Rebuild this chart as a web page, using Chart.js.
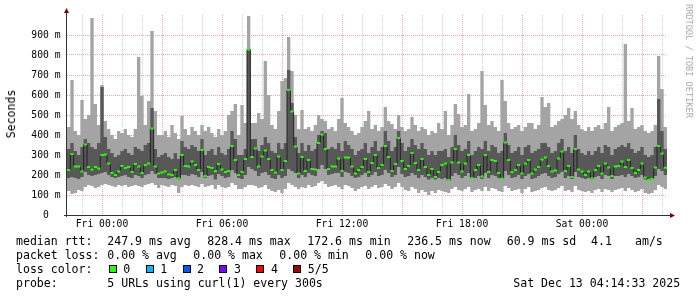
<!DOCTYPE html>
<html>
<head>
<meta charset="utf-8">
<script src="https://cdn.jsdelivr.net/npm/chart.js@4.4.1/dist/chart.umd.min.js"></script>
<style>
  html, body { margin: 0; padding: 0; background: #fff; }
  #wrap { position: relative; width: 697px; height: 297px; overflow: hidden; background: #fff; }
  #wrap canvas { position: absolute; left: 0; top: 0; }
  .t { position: absolute; font-family: 'DejaVu Sans Mono', monospace; font-size: 11.55px; line-height: 14px; white-space: pre; color: #000; }
  .box { position: absolute; top: 265px; width: 8px; height: 8px; box-sizing: border-box; border: 1px solid #000; }
  .ylab { left: 11px; top: 113.5px; transform: translate(-50%, -50%) rotate(-90deg); }
  .credit { left: 689px; top: 61px; font-size: 8.6px; line-height: 10px; color: #a8a8a8; transform: translate(-50%, -50%) rotate(90deg); }
</style>
</head>
<body>
<div id="wrap">
  <canvas id="chart" width="697" height="297"></canvas>
  <div class="t ylab">Seconds</div>
  <div class="t credit">RRDTOOL / TOBI OETIKER</div>

  <div class="t" style="left:16px;top:234.3px">median rtt:</div>
  <div class="t" style="left:107.3px;top:234.3px">247.9 ms avg</div>
  <div class="t" style="left:207.3px;top:234.3px">828.4 ms max</div>
  <div class="t" style="left:307.3px;top:234.3px">172.6 ms min</div>
  <div class="t" style="left:407.3px;top:234.3px">236.5 ms now</div>
  <div class="t" style="left:506.7px;top:234.3px">60.9 ms sd</div>
  <div class="t" style="left:591px;top:234.3px">4.1</div>
  <div class="t" style="left:635px;top:234.3px">am/s</div>

  <div class="t" style="left:16px;top:248.3px">packet loss:</div>
  <div class="t" style="left:107.3px;top:248.3px">0.00 % avg</div>
  <div class="t" style="left:193.3px;top:248.3px">0.00 % max</div>
  <div class="t" style="left:279.3px;top:248.3px">0.00 % min</div>
  <div class="t" style="left:365.3px;top:248.3px">0.00 % now</div>

  <div class="t" style="left:16px;top:262.3px">loss color:</div>
  <div id="lossLegend"></div>

  <div class="t" style="left:16px;top:276.3px">probe:</div>
  <div class="t" style="left:107.3px;top:276.3px">5 URLs using curl(1) every 300s</div>
  <div class="t" style="left:513.3px;top:276.3px">Sat Dec 13 04:14:33 2025</div>
</div>
<script>
// 10 minute columns, first one starts Thu 22:15, last ends Sat 04:15
const STEP_MIN = 10;
const SPAN_MIN = 1800;

const rttMin = [
  120,105,110,125,120,140,150,145,135,140,150,155,150,145,140,150,145,150,140,145,150,145,140,150,155,160,150,135,
  150,145,140,150,145,110,140,150,145,150,145,140,155,140,145,150,130,150,140,135,140,160,150,130,
  130,140,150,150,145,135,140,150,130,120,115,125,110,130,160,150,140,130,140,135,150,140,145,160,170,155,140,145,150,140,130,150,145,135,120,130,
  140,145,130,140,150,135,140,155,145,130,140,160,140,125,120,140,130,110,125,115,100,120,110,125,
  120,115,110,130,140,125,120,130,140,115,125,130,120,140,120,135,130,120,115,145,135,120,125,130,110,130,140,115,120,125,135,140,125,120,
  125,135,145,120,125,115,145,125,120,115,120,110,125,130,115,130,125,115,125,130,135,120,135,125,115,120,130,110,105,110,125,150,140,130
];
const smokeLow = [
  185,190,185,180,190,215,200,195,200,205,210,215,200,190,185,190,195,200,190,185,200,195,185,200,205,220,205,185,
  185,185,180,185,190,178,200,200,195,205,200,190,215,185,195,200,178,205,195,185,190,225,210,185,
  180,200,240,230,220,195,210,215,200,185,180,200,185,195,230,220,210,185,200,190,210,200,195,230,250,230,200,205,210,210,190,215,210,195,185,190,
  200,210,190,200,215,195,200,225,210,190,200,240,205,190,195,210,200,185,200,190,178,185,178,185,
  180,185,170,195,210,200,185,195,210,180,185,195,180,210,185,200,195,185,180,220,200,185,190,200,180,195,205,180,185,195,205,210,195,185,
  190,205,215,185,195,180,215,190,185,180,185,178,190,195,180,200,195,180,195,195,200,190,205,195,185,190,200,178,170,175,195,230,220,200
];
const rttMedian = [
  225,305,242,242,217,353,240,228,240,233,300,303,258,210,200,217,245,235,240,215,255,242,210,250,258,433,242,208,
  212,217,204,200,225,183,300,245,242,267,250,225,325,195,240,235,220,255,228,215,220,345,275,200,
  215,280,828,290,333,242,292,322,280,225,212,292,225,270,625,517,342,208,290,220,275,230,228,360,403,330,230,242,242,283,220,288,288,242,208,225,
  240,280,215,260,300,235,250,345,290,220,255,385,270,230,245,310,260,225,280,240,200,230,190,215,
  250,258,175,262,330,262,217,258,300,185,225,250,192,300,215,275,270,210,183,362,275,215,225,250,208,258,275,208,228,240,278,287,245,217,
  222,283,317,220,245,190,330,228,217,200,217,183,225,245,208,258,238,195,242,245,267,240,275,235,210,225,258,188,175,180,237,345,308,236
];
const smokeHigh = [
  330,360,320,300,340,380,360,340,330,360,640,390,330,310,290,300,320,330,310,300,340,330,320,350,360,535,330,290,
  300,310,290,280,310,280,370,340,330,350,340,320,380,300,320,330,300,340,310,300,330,420,380,300,
  300,330,830,380,380,320,350,390,360,320,310,360,330,360,725,560,390,310,360,320,350,320,330,400,420,410,330,340,330,360,320,370,350,330,300,320,
  330,360,310,340,370,320,340,420,370,320,340,420,360,320,340,380,350,330,360,330,300,320,300,320,
  320,330,290,340,400,350,320,330,370,300,320,340,330,370,320,350,340,310,320,410,350,310,320,340,300,340,350,310,320,330,360,360,340,310,
  320,360,380,320,340,310,400,330,310,300,320,300,320,340,310,350,340,300,330,340,350,340,360,330,310,320,340,300,290,300,340,580,420,330
];
const rttMax = [
  440,675,420,400,575,480,500,985,555,450,650,470,430,400,380,420,410,430,400,390,430,790,595,450,570,920,520,400,
  400,420,390,450,410,380,495,430,400,440,420,400,450,420,440,410,390,430,400,420,500,520,555,400,
  550,460,995,460,460,510,480,770,600,450,430,520,670,685,890,720,500,430,525,430,440,420,450,500,480,470,430,440,420,480,585,460,440,420,400,410,
  440,470,520,430,450,420,440,540,470,455,430,500,440,420,430,490,450,420,440,430,400,420,410,460,
  430,520,400,450,555,505,440,450,605,420,430,460,720,550,450,470,440,420,675,570,460,430,440,450,420,440,460,460,430,450,590,540,560,440,
  450,470,480,500,535,480,520,450,430,420,440,420,440,450,430,460,540,420,440,450,460,855,470,535,430,440,450,420,410,420,450,795,630,440
];

const xTickMinutes = [105, 465, 825, 1185, 1545];
const xTickLabels = ['Fri 00:00', 'Fri 06:00', 'Fri 12:00', 'Fri 18:00', 'Sat 00:00'];
const yTickValues = [0, 100, 200, 300, 400, 500, 600, 700, 800, 900];
const yTickLabels = ['0  ', '100 m', '200 m', '300 m', '400 m', '500 m', '600 m', '700 m', '800 m', '900 m'];

const lossLabels = ['0', '1', '2', '3', '4', '5/5'];
const lossColors = ['#26ff00', '#00b8ff', '#0059ff', '#7e00ff', '#ff0000', '#a10000'];

const MED_HALF = 5; // loss colour bar is 2px tall: 1000 ms over 200 px

// step areas need a closing point at the end of the last column
function steps(values) {
  const pts = values.map((v, i) => ({ x: i * STEP_MIN, y: v }));
  pts.push({ x: SPAN_MIN, y: values[values.length - 1] });
  return pts;
}

const hourTicks = [];
for (let m = 45; m < SPAN_MIN; m += 60) hourTicks.push(m);

const GRID_MINOR = 'rgba(150,150,150,0.42)';
const GRID_MAJOR = 'rgba(215,60,60,0.45)';
const TICK_FONT = { family: 'DejaVu Sans Mono', size: 9.7, lineHeight: 1.2 };

const base = { stepped: 'before', pointRadius: 0, borderWidth: 0, tension: 0 };

const axisArrows = {
  id: 'axisArrows',
  afterDraw(chart) {
    const { ctx, chartArea: a } = chart;
    ctx.save();
    ctx.strokeStyle = '#333';
    ctx.lineWidth = 1;
    ctx.beginPath();
    ctx.moveTo(a.left - 0.5, a.bottom + 2);
    ctx.lineTo(a.left - 0.5, a.top - 3);
    ctx.moveTo(a.left - 3, a.bottom + 0.5);
    ctx.lineTo(a.right + 4, a.bottom + 0.5);
    ctx.stroke();
    ctx.fillStyle = '#7f0000';
    ctx.beginPath();
    ctx.moveTo(a.left - 0.5, a.top - 7);
    ctx.lineTo(a.left - 3, a.top - 2);
    ctx.lineTo(a.left + 2, a.top - 2);
    ctx.closePath();
    ctx.fill();
    ctx.beginPath();
    ctx.moveTo(a.right + 8, a.bottom + 0.5);
    ctx.lineTo(a.right + 3, a.bottom - 2);
    ctx.lineTo(a.right + 3, a.bottom + 3);
    ctx.closePath();
    ctx.fill();
    ctx.restore();
  }
};

new Chart(document.getElementById('chart'), {
  type: 'line',
  data: {
    datasets: [
      { ...base, data: steps(rttMedian.map(v => v + MED_HALF)), fill: '+1', backgroundColor: lossColors[0], order: 0 },
      { ...base, data: steps(rttMedian.map(v => v - MED_HALF)), order: 0 },
      { ...base, data: steps(rttMedian), borderWidth: 1, borderColor: '#202020', order: 1 },
      { ...base, data: steps(smokeHigh), fill: '+1', backgroundColor: '#585858', order: 2 },
      { ...base, data: steps(smokeLow), order: 2 },
      { ...base, data: steps(rttMax), fill: '+1', backgroundColor: '#a4a4a4', order: 3 },
      { ...base, data: steps(rttMin), order: 3 }
    ]
  },
  options: {
    responsive: false,
    animation: false,
    devicePixelRatio: 1,
    events: [],
    layout: { padding: { left: 0, right: 30, top: 15, bottom: 62 } },
    plugins: { legend: { display: false }, tooltip: { enabled: false } },
    scales: {
      x: {
        type: 'linear',
        min: 0,
        max: SPAN_MIN,
        afterBuildTicks: s => { s.ticks = hourTicks.map(v => ({ value: v })); },
        afterFit: s => { s.height = 20; },
        border: { display: false, dash: [1, 1] },
        grid: {
          drawTicks: false,
          color: c => ((c.tick.value - 105) % 180 === 0 ? GRID_MAJOR : GRID_MINOR)
        },
        ticks: {
          autoSkip: false,
          maxRotation: 0,
          padding: 4,
          color: '#000',
          font: TICK_FONT,
          callback: v => { const k = xTickMinutes.indexOf(v); return k >= 0 ? xTickLabels[k] : ''; }
        }
      },
      y: {
        min: 0,
        max: 1000,
        afterFit: s => { s.width = 67; },
        border: { display: false, dash: [1, 1] },
        grid: {
          drawTicks: false,
          color: c => (c.tick.value >= 1000 ? 'rgba(0,0,0,0)' : (c.tick.value % 100 === 0 ? GRID_MAJOR : GRID_MINOR))
        },
        ticks: {
          stepSize: 50,
          padding: 6.5,
          color: '#000',
          font: TICK_FONT,
          callback: v => { const k = yTickValues.indexOf(v); return k >= 0 ? yTickLabels[k] : ''; }
        }
      }
    }
  },
  plugins: [axisArrows]
});

// loss colour legend boxes
const legend = document.getElementById('lossLegend');
lossLabels.forEach((lab, i) => {
  const left = 108.7 + i * 36.9;
  const b = document.createElement('div');
  b.className = 'box';
  b.style.left = left + 'px';
  b.style.background = lossColors[i];
  legend.appendChild(b);
  const t = document.createElement('div');
  t.className = 't';
  t.style.left = (left + 14.6) + 'px';
  t.style.top = '262.3px';
  t.textContent = lab;
  legend.appendChild(t);
});
</script>
</body>
</html>
